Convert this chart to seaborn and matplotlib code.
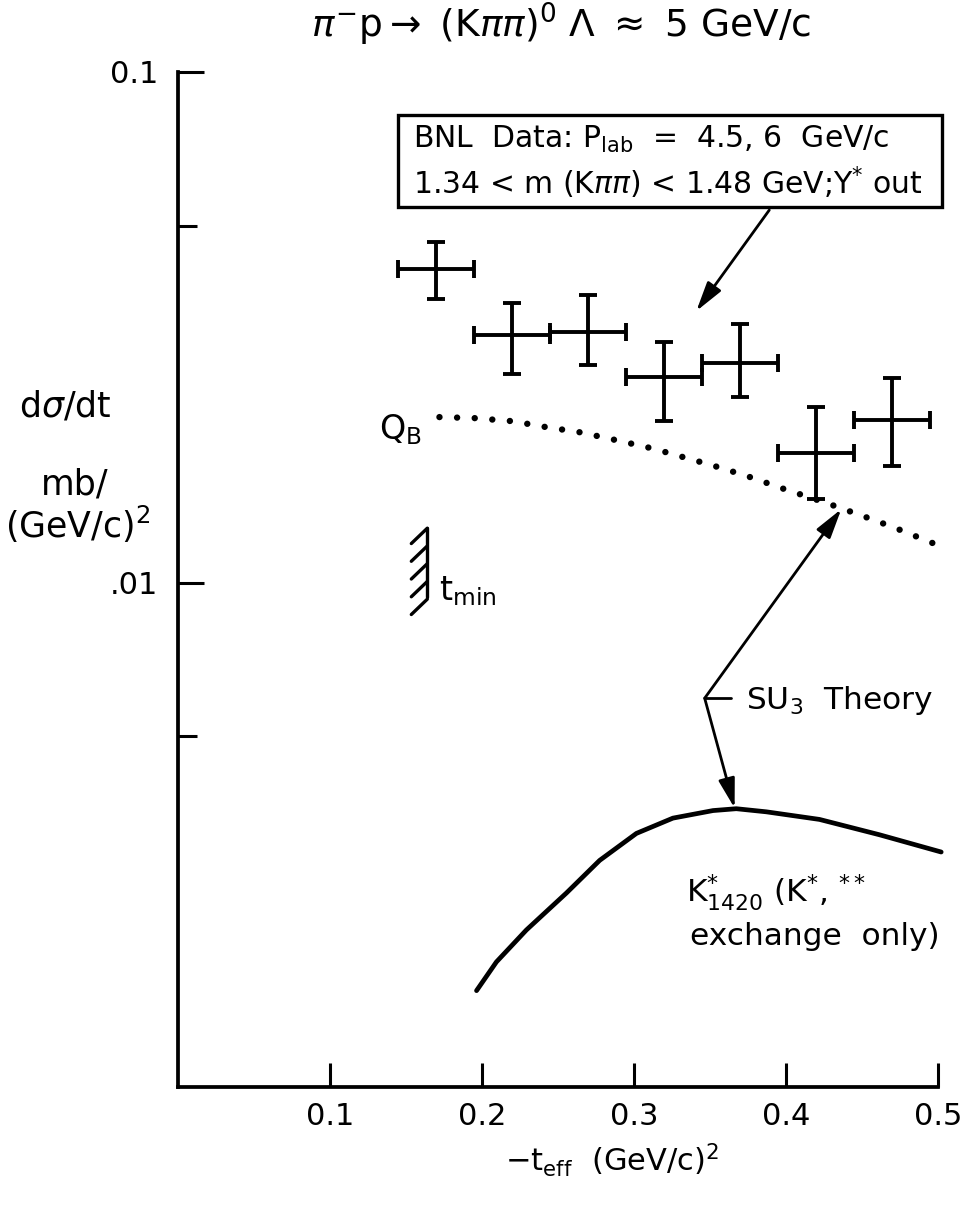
import numpy as np
import pandas as pd
import seaborn as sns
import matplotlib.pyplot as plt
from matplotlib.patches import Rectangle
from matplotlib.ticker import FixedLocator, FixedFormatter, NullFormatter

# BNL data points  (-t_eff, dsigma/dt)
t_data = [0.17, 0.22, 0.27, 0.32, 0.37, 0.42, 0.47]
t_halfbin = [0.025, 0.025, 0.025, 0.025, 0.025, 0.025, 0.025]
sig_data = [0.0411, 0.0305, 0.0309, 0.0253, 0.0269, 0.0179, 0.0208]
sig_hi = [0.0465, 0.0353, 0.0365, 0.0296, 0.0321, 0.0221, 0.0251]
sig_lo = [0.0359, 0.0256, 0.0267, 0.0207, 0.0231, 0.0146, 0.0169]

# Q_B curve (dotted)
qb_t = [0.172, 0.195, 0.220, 0.241, 0.265, 0.288, 0.313, 0.326, 0.351,
        0.374, 0.399, 0.4255, 0.450, 0.471, 0.501]
qb_log = [-1.676, -1.678, -1.684, -1.695, -1.706, -1.721, -1.738, -1.749,
          -1.770, -1.791, -1.817, -1.843, -1.869, -1.892, -1.928]

# SU3 K*1420 exchange curve (solid)
k_t = [0.1964, 0.2095, 0.2292, 0.2556, 0.2774, 0.3016, 0.3256, 0.3520,
       0.3673, 0.3870, 0.4220, 0.4615, 0.5021]
k_sig = [0.00159, 0.00181, 0.00209, 0.00247, 0.00286, 0.00323, 0.00346,
         0.00358, 0.00361, 0.00356, 0.00344, 0.00321, 0.00297]

t_min = 0.164
x_ticks = [0.1, 0.2, 0.3, 0.4, 0.5]
x_ticklabels = ['0.1', '0.2', '0.3', '0.4', '0.5']
y_major = [0.01, 0.1]
y_major_labels = ['.01', '0.1']
y_minor = [0.005, 0.05]

sns.set_theme(style='ticks')
plt.rcParams['font.family'] = ['DejaVu Sans']
plt.rcParams['mathtext.fontset'] = 'dejavusans'
plt.rcParams.update({'text.color': 'black', 'axes.edgecolor': 'black',
                     'xtick.color': 'black', 'ytick.color': 'black',
                     'axes.labelcolor': 'black'})

W, H = 973, 1209
fig = plt.figure(figsize=(W / 100, H / 100), dpi=100)
ax = fig.add_axes([178 / W, 1 - 1087 / H, 760 / W, (1087 - 71.7) / H])

def fx(px):
    return px / W

def fy(py):
    return 1 - py / H

ax.set_yscale('log')
ax.set_xlim(0, 0.5)
ax.set_ylim(0.00103, 0.1)

# data points
ax.errorbar(t_data, sig_data, xerr=t_halfbin,
            yerr=[np.subtract(sig_data, sig_lo), np.subtract(sig_hi, sig_data)],
            fmt='none', ecolor='black', elinewidth=2.8, capsize=6.5,
            capthick=2.8, zorder=3)

# theory curves
qb = pd.DataFrame({'t': qb_t, 'sig': np.power(10.0, qb_log)})
sns.lineplot(data=qb, x='t', y='sig', ax=ax, color='black', lw=4.6,
             linestyle=(0, (0.01, 2.75)), dash_capstyle='round', clip_on=False)
kst = pd.DataFrame({'t': k_t, 'sig': k_sig})
sns.lineplot(data=kst, x='t', y='sig', ax=ax, color='black', lw=3.4,
             solid_joinstyle='round', clip_on=False)

# axes styling
for s in ['top', 'right']:
    ax.spines[s].set_visible(False)
for s in ['left', 'bottom']:
    ax.spines[s].set_linewidth(2.7)
ax.xaxis.set_major_locator(FixedLocator(x_ticks))
ax.xaxis.set_major_formatter(FixedFormatter(x_ticklabels))
ax.xaxis.set_minor_locator(FixedLocator([]))
ax.yaxis.set_major_locator(FixedLocator(y_major))
ax.yaxis.set_major_formatter(FixedFormatter(y_major_labels))
ax.yaxis.set_minor_locator(FixedLocator(y_minor))
ax.yaxis.set_minor_formatter(NullFormatter())
ax.tick_params(axis='x', direction='in', length=17, width=2.2,
               labelsize=22, pad=11)
ax.tick_params(axis='y', which='major', direction='in', length=19, width=2.2,
               labelsize=22, pad=14)
ax.tick_params(axis='y', which='minor', direction='in', length=14, width=2.2)
ax.set_xlabel('')
ax.set_ylabel('')

txt = dict(color='black', fontsize=22.5)
box_txt = dict(color='black', fontsize=21.5)

# title and axis labels
fig.text(fx(561), fy(24), r'$\pi^{-}$p$\rightarrow$ (K$\pi\pi$)$^{0}$ $\Lambda$ $\approx$ 5 GeV/c',
         ha='center', va='center', fontsize=27)
fig.text(fx(612), fy(1160), r'$-$t$_{\mathrm{eff}}$  (GeV/c)$^{2}$',
         ha='center', va='center', fontsize=22)
fig.text(fx(65), fy(407), r'd$\sigma$/dt', ha='center', va='center', fontsize=25)
fig.text(fx(75), fy(484), 'mb/', ha='center', va='center', fontsize=25)
fig.text(fx(78), fy(524), r'(GeV/c)$^{2}$', ha='center', va='center', fontsize=25)

# data box
ax.add_patch(Rectangle(((398 - 178) / 760, 1 - (207 - 71.7) / 1015.3),
                       (942 - 398) / 760, (207 - 115) / 1015.3,
                       transform=ax.transAxes, fill=False, lw=2.4,
                       ec='black', clip_on=False, zorder=4))
ax.text(0.1545, 0.0737, r'BNL  Data: P$_{\mathrm{lab}}$  =  4.5, 6  GeV/c',
        ha='left', va='center', **box_txt)
ax.text(0.1545, 0.0606, r'1.34 < m (K$\pi\pi$) < 1.48 GeV;Y$^{*}$ out',
        ha='left', va='center', **box_txt)

arrow = dict(arrowstyle='-|>,head_length=0.9,head_width=0.25', lw=2.0,
             color='black', mutation_scale=20, shrinkA=0, shrinkB=0)
ax.annotate('', xy=(0.341, 0.034), xytext=(0.389, 0.0536), arrowprops=arrow)

# SU3 theory pointers
vx, vy = 0.3465, 0.00594
ax.annotate('', xy=(0.4364, 0.01393), xytext=(vx, vy), arrowprops=arrow)
ax.annotate('', xy=(0.3662, 0.00362), xytext=(vx, vy), arrowprops=arrow)
ax.plot([vx, 0.364], [vy, vy], color='black', lw=2.0)
ax.text(0.3738, 0.00589, r'SU$_3$  Theory', ha='left', va='center', **txt)
ax.text(0.3344, 0.00247, r'K$^{*}_{1420}$ (K$^{*}$, $^{**}$', ha='left', va='center', **txt)
ax.text(0.3366, 0.00203, 'exchange  only)', ha='left', va='center', **txt)

# Q_B label
ax.text(0.1604, 0.0199, r'Q$_{\mathrm{B}}$', ha='right', va='center',
        color='black', fontsize=24)

# t_min marker
top_log, bot_log = -1.8935, -2.0274
ax.plot([t_min, t_min], [10 ** top_log, 10 ** bot_log], color='black', lw=2.4)
for yl in np.linspace(top_log, bot_log - 0.005, 5):
    ax.plot([t_min, t_min - 0.0105], [10 ** yl, 10 ** (yl - 0.03)],
            color='black', lw=2.4, solid_capstyle='round')
ax.text(0.172, 10 ** -2.016, r't$_{\mathrm{min}}$', ha='left', va='center',
        color='black', fontsize=24)

plt.savefig('out.png', dpi=100)
